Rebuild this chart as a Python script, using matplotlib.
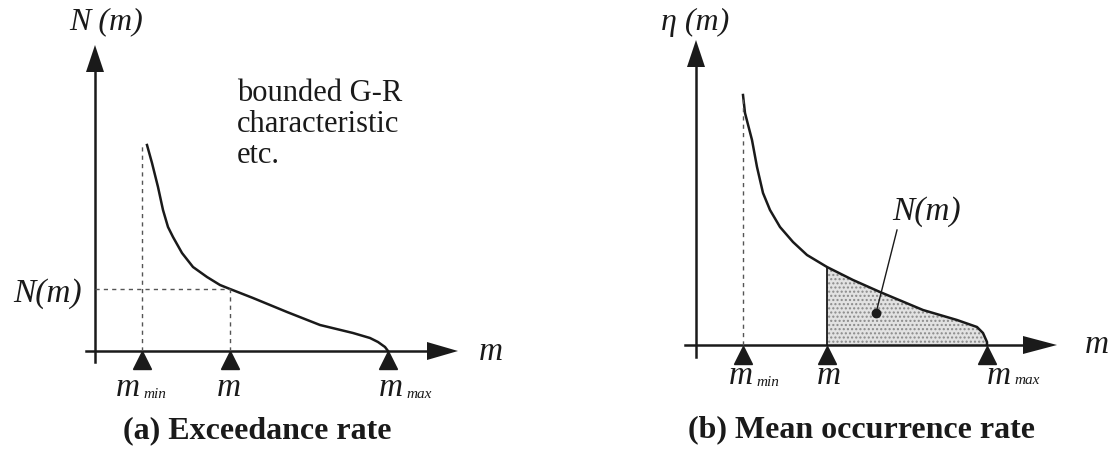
import matplotlib
matplotlib.use("Agg")
import matplotlib.pyplot as plt
import numpy as np

plt.rcParams['font.family'] = ['Liberation Serif', 'DejaVu Serif']

# (a) exceedance rate curve, schematic units (origin at axes crossing)
a_m = [52, 57, 63, 68, 73, 78, 87, 98, 112, 125, 135, 158, 192, 225, 258, 275, 283, 290, 293]
a_n = [206, 188, 164, 141, 124, 114, 98, 84, 74, 66, 62, 53, 39, 26, 18, 13, 9, 4, 0]
a_mmin, a_m0, a_mmax = 47, 135, 293
a_nm0 = 62

# (b) mean occurrence rate curve
b_m = [47, 49, 56, 61, 67, 74, 84, 97, 111, 131, 157, 184, 227, 261, 281, 287, 291, 291]
b_eta = [250, 232, 205, 178, 152, 135, 118, 103, 90, 78, 65, 53, 35, 25, 18, 12, 3, 0]
b_mmin, b_m0, b_mmax = 47, 131, 291

W, H = 1119, 466
fig = plt.figure(figsize=(W / 100, H / 100), dpi=100)

ink = '#1a1a1a'
it = dict(family='Liberation Serif', style='italic', color=ink)


def axes_arrows(ax, x0, xend, xhead, y0, yend, yhead):
    ax.plot([x0, xend - xhead], [0, 0], color=ink, lw=1.8)
    ax.plot([0, 0], [y0, yend - yhead], color=ink, lw=1.8)
    ax.fill([xend - xhead, xend, xend - xhead], [9, 0, -9], color=ink, lw=0)
    ax.fill([-9, 0, 9], [yend - yhead, yend, yend - yhead], color=ink, lw=0)


def mlabel(ax, x, y, sub, dy=7):
    ax.text(x, y, 'm', fontsize=24, ha='right', va='center', **it)
    if sub:
        ax.text(x + 3, y - dy, sub, fontsize=11, ha='left', va='center', **it)


# ---------- panel (a)
ax = fig.add_axes([0, 0, 560 / W, 1])
ax.set_xlim(-95, 560 - 95)
ax.set_ylim(351 - H, 351)
ax.axis('off')

axes_arrows(ax, -9, 363, 31, -11, 306, 27)
ax.plot(a_m, a_n, color=ink, lw=1.8)
ax.plot([a_mmin, a_mmin], [0, a_n[0]], color='#555', lw=1, ls=(0, (3, 3)))
ax.plot([a_m0, a_m0], [0, a_nm0], color='#555', lw=1, ls=(0, (3, 3)))
ax.plot([0, a_m0], [a_nm0, a_nm0], color='#555', lw=1, ls=(0, (3, 3)))
ax.plot([a_mmin, a_m0, a_mmax], [-9, -9, -9], ls='none', marker='^',
        ms=13, color=ink)

ax.text(11, 329, 'N (m)', fontsize=23, ha='center', va='center', **it)
ax.text(-13, 57, 'N(m)', fontsize=24, ha='right', va='center', **it)
ax.text(142, 272, 'bounded G-R\ncharacteristic\netc.', fontsize=22,
        ha='left', va='top', linespacing=1.08, color=ink)
mlabel(ax, 45, -37, 'min')
ax.text(134, -37, 'm', fontsize=24, ha='center', va='center', **it)
mlabel(ax, 308, -37, 'max')
ax.text(396, -1, 'm', fontsize=24, ha='center', va='center', **it)
ax.text(162, -80, '(a) Exceedance rate', fontsize=23, fontweight='bold',
        ha='center', va='center', color=ink)

# ---------- panel (b)
bx = fig.add_axes([560 / W, 0, 559 / W, 1])
bx.set_xlim(560 - 696, W - 696)
bx.set_ylim(345 - H, 345)
bx.axis('off')

bm = np.array(b_m)
be = np.array(b_eta)
sel = bm >= b_m0
bx.fill_between(bm[sel], 0, be[sel], facecolor='#e2e2e2', edgecolor='#8a8a8a',
                hatch='....', lw=0)
axes_arrows(bx, -11, 361, 34, -12, 305, 27)
bx.plot(b_m, b_eta, color=ink, lw=1.8)
bx.plot([b_mmin, b_mmin], [0, b_eta[0]], color='#555', lw=1, ls=(0, (3, 3)))
bx.plot([b_m0, b_m0], [0, be[bm == b_m0][0]], color=ink, lw=1.3)
bx.plot([b_mmin, b_m0, b_mmax], [-10, -10, -10], ls='none', marker='^',
        ms=13, color=ink)
bx.plot([201, 180], [115, 32], color=ink, lw=1)
bx.plot([180], [32], marker='o', ms=6, color=ink)

bx.text(-1, 323, 'η (m)', fontsize=23, ha='center', va='center', **it)
bx.text(231, 133, 'N(m)', fontsize=24, ha='center', va='center', **it)
mlabel(bx, 57, -31, 'min')
bx.text(133, -31, 'm', fontsize=24, ha='center', va='center', **it)
mlabel(bx, 315, -31, 'max', dy=4)
bx.text(401, 0, 'm', fontsize=24, ha='center', va='center', **it)
bx.text(165, -85, '(b) Mean occurrence rate', fontsize=23, fontweight='bold',
        ha='center', va='center', color=ink)

fig.savefig('out.png', dpi=100)
